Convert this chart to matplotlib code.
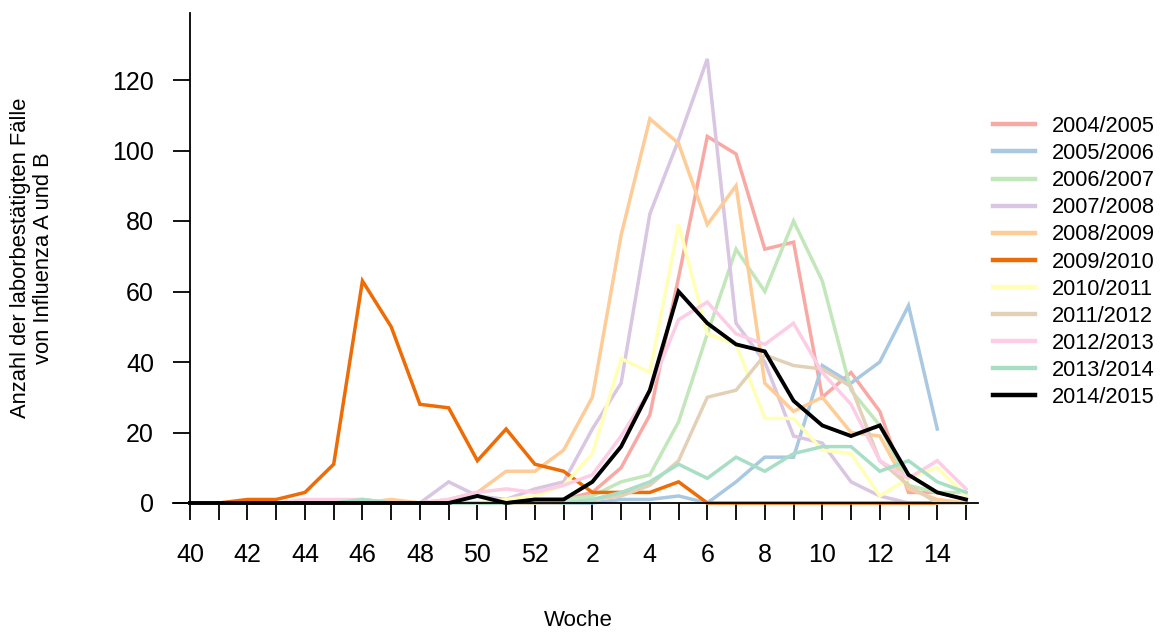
import numpy as np
import matplotlib
matplotlib.use("Agg")
import matplotlib.pyplot as plt

nan = np.nan
weeks = [40, 41, 42, 43, 44, 45, 46, 47, 48, 49, 50, 51, 52,
         1, 2, 3, 4, 5, 6, 7, 8, 9, 10, 11, 12, 13, 14, 15]

seasons = ["2004/2005", "2005/2006", "2006/2007", "2007/2008", "2008/2009",
           "2009/2010", "2010/2011", "2011/2012", "2012/2013", "2013/2014",
           "2014/2015"]

s2004 = [0, 0, 0, 0, 0, 0, 0, 0, 0, 0, 0, 0, 0, 1, 3, 10, 25, 64, 104, 99, 72, 74, 30, 37, 26, 3, 3, 1]
s2005 = [0, 0, 0, 0, 0, 0, 0, 0, 0, 0, 0, 0, 0, 0, 0, 1, 1, 2, 0, 6, 13, 13, 39, 34, 40, 56, 21, nan]
s2006 = [0, 0, 0, 0, 0, 0, 1, 0, 0, 0, 0, 0, 0, 1, 2, 6, 8, 23, 48, 72, 60, 80, 63, 32, 22, 5, 3, 3]
s2007 = [0, 0, 0, 0, 0, 0, 0, 0, 0, 6, 2, 1, 4, 6, 21, 34, 82, 103, 126, 51, 40, 19, 17, 6, 2, 0, 0, 0]
s2008 = [0, 0, 0, 0, 0, 0, 0, 1, 0, 1, 3, 9, 9, 15, 30, 76, 109, 102, 79, 90, 34, 26, 30, 20, 19, 4, 1, 0]
s2009 = [0, 0, 1, 1, 3, 11, 63, 50, 28, 27, 12, 21, 11, 9, 3, 3, 3, 6, 0, 0, 0, 0, 0, 0, 0, 0, 0, nan]
s2010 = [0, 0, 0, 0, 0, 0, 0, 0, 0, 0, 0, 1, 2, 5, 14, 41, 37, 79, 48, 45, 24, 24, 15, 14, 2, 7, 10, 2]
s2011 = [0, 0, 0, 0, 0, 0, 0, 0, 0, 0, 0, 0, 0, 0, 1, 2, 5, 12, 30, 32, 42, 39, 38, 33, 12, 5, 0, 0]
s2012 = [0, 0, 0, 0, 1, 1, 1, 0, 0, 1, 3, 4, 3, 5, 8, 19, 32, 52, 57, 48, 45, 51, 37, 28, 12, 7, 12, 4]
s2013 = [0, 0, 0, 0, 0, 0, 1, 0, 0, 0, 0, 0, 1, 0, 1, 3, 6, 11, 7, 13, 9, 14, 16, 16, 9, 12, 6, 3]
s2014 = [0, 0, 0, 0, 0, 0, 0, 0, 0, 0, 2, 0, 1, 1, 6, 16, 32, 60, 51, 45, 43, 29, 22, 19, 22, 8, 3, 1]

series = [s2004, s2005, s2006, s2007, s2008, s2009, s2010, s2011, s2012, s2013, s2014]
colors = ["#F9A9A3", "#A9C8E2", "#C2E7BA", "#D9C6E2", "#FDCC97", "#EE6C06",
          "#FFFFB5", "#E3D1B7", "#FCCDE5", "#A9DEC6", "#000000"]

plt.rcParams['font.family'] = ['Liberation Sans', 'DejaVu Sans']

W, H = 1164, 633
fig = plt.figure(figsize=(W / 100, H / 100), dpi=100)
L, R, B, T = 173, 978, 503, 13
ax = fig.add_axes([L / W, 1 - B / H, (R - L) / W, (B - T) / H])

pxu = 28.74
ax.set_xlim(-(190 - L) / pxu, (R - 190) / pxu)
ax.set_ylim(0, (B - T) / 3.525)

x = np.arange(len(weeks))
for s, c, lab in zip(series, colors, seasons):
    lw = 2.8 if c == "#000000" else 2.5
    ax.plot(x, s, color=c, lw=lw, label=lab, solid_joinstyle='miter', clip_on=False)

for side in ['top', 'right']:
    ax.spines[side].set_visible(False)
ax.spines['left'].set_position(('data', 0))
for side in ['left', 'bottom']:
    ax.spines[side].set_linewidth(1.3)

ax.set_yticks(np.arange(0, 121, 20))
ax.set_xticks(x)
ax.set_xticklabels([str(w) if i % 2 == 0 else "" for i, w in enumerate(weeks)])
ax.tick_params(axis='both', which='major', length=12, width=1.3, direction='out',
               labelsize=18, colors='black')
ax.tick_params(axis='x', pad=17)
ax.tick_params(axis='y', pad=14)

fig.text(578 / W, 1 - 621 / H, "Woche", ha='center', va='center', fontsize=16)
fig.text(32 / W, 1 - 258 / H, "Anzahl der laborbestätigten Fälle\nvon Influenza A und B",
         ha='center', va='center', rotation=90, fontsize=15.8, linespacing=1.15)

leg = fig.legend(loc='upper left', bbox_to_anchor=(993 / W, 1 - 116 / H), frameon=False,
                 fontsize=15.7, handlelength=1.93, handletextpad=0.78, labelspacing=0.28,
                 borderpad=0, borderaxespad=0)
for h in leg.get_lines():
    h.set_linewidth(3.2)

fig.savefig("out.png", dpi=100)
